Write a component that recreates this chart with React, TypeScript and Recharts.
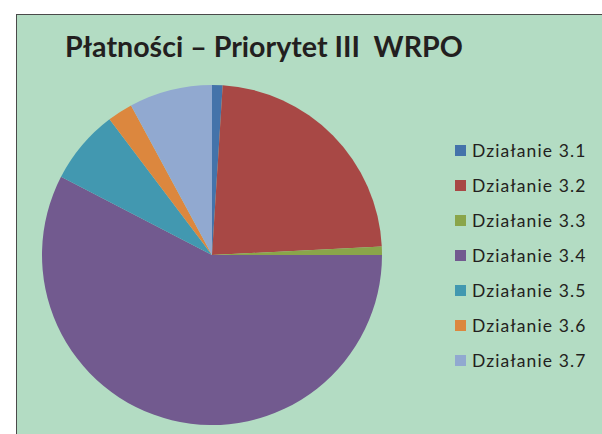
import React from "react";
import { PieChart, Pie, Cell, Legend } from "recharts";

const categories = [
  "Działanie 3.1",
  "Działanie 3.2",
  "Działanie 3.3",
  "Działanie 3.4",
  "Działanie 3.5",
  "Działanie 3.6",
  "Działanie 3.7",
];
const shares = [1.0, 23.2, 0.8, 57.6, 7.1, 2.4, 7.9];
const colors = ["#4473aa", "#a84845", "#8aa54a", "#725a8f", "#4298b0", "#dc873e", "#91a9d0"];

const title = "Płatności – Priorytet III  WRPO";

const data = categories.map((name, i) => ({ name, value: shares[i] }));

// legend drawn by hand so the row spacing matches the original
const renderLegend = (props: any) => {
  const { payload } = props;
  return (
    <div>
      {payload.map((entry: any, i: number) => (
        <div
          key={i}
          style={{ display: "flex", alignItems: "center", height: 35 }}
        >
          <span
            style={{
              display: "inline-block",
              width: 11,
              height: 11,
              background: entry.color,
              marginRight: 6,
            }}
          />
          <span
            style={{
              fontFamily: "Lato, sans-serif",
              fontSize: 17.5,
              color: "#231f20",
              letterSpacing: 1.1,
            }}
          >
            {entry.value}
          </span>
        </div>
      ))}
    </div>
  );
};

const App: React.FC = () => {
  return (
    <div
      style={{
        position: "absolute",
        left: 0,
        top: 0,
        width: 602,
        height: 434,
        background: "#ffffff",
        overflow: "hidden",
      }}
    >
      <div
        style={{
          position: "absolute",
          left: 16,
          top: 14,
          width: 600,
          height: 430,
          background: "#b3dcc3",
          borderLeft: "1.5px solid #4a4a4a",
          borderTop: "1.5px solid #4a4a4a",
        }}
      />
      <div
        style={{
          position: "absolute",
          left: 65,
          top: 28,
          fontFamily: "Lato, sans-serif",
          fontWeight: 700,
          fontSize: 28.6,
          color: "#231f20",
          whiteSpace: "pre",
          lineHeight: "36px",
        }}
      >
        {title}
      </div>
      <div style={{ position: "absolute", left: 0, top: 0 }}>
        <PieChart
          width={602}
          height={434}
          margin={{ top: 0, right: 0, bottom: 0, left: 0 }}
        >
          <Pie
            data={data}
            dataKey="value"
            nameKey="name"
            cx={212}
            cy={255}
            outerRadius={170}
            startAngle={90}
            endAngle={-270}
            stroke="none"
            isAnimationActive={false}
          >
            {data.map((d, i) => (
              <Cell key={d.name} fill={colors[i]} />
            ))}
          </Pie>
          <Legend
            layout="vertical"
            verticalAlign="top"
            align="right"
            content={renderLegend}
            wrapperStyle={{ position: "absolute", left: 455, top: 133, width: 150 }}
          />
        </PieChart>
      </div>
    </div>
  );
};

export default App;
